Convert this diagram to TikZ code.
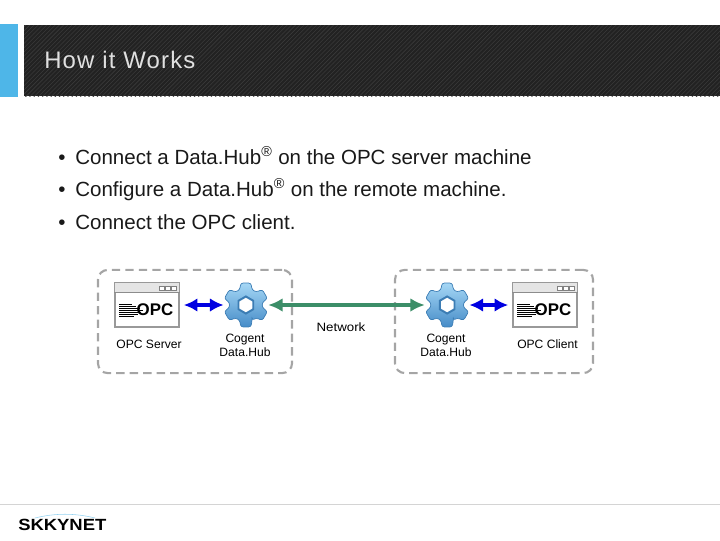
\documentclass[tikz,border=0pt]{standalone}
\usepackage{fontspec}
\setmainfont{Liberation Sans}
\newfontfamily\titlefont[LetterSpace=5]{Liberation Sans}
\usepackage{xcolor}
\usetikzlibrary{arrows.meta, positioning, patterns, calc}
\definecolor{skyBlue}{RGB}{78,182,232}
\definecolor{headerDark}{RGB}{34,34,34}
\definecolor{headerLine}{RGB}{58,58,58}
\definecolor{netGreen}{RGB}{60,142,104}
\definecolor{linkBlue}{RGB}{0,0,225}
\definecolor{zoneGray}{RGB}{165,165,165}
\definecolor{gearTop}{RGB}{165,215,245}
\definecolor{gearBottom}{RGB}{70,140,200}
\definecolor{gearEdge}{RGB}{60,125,180}

\begin{document}
\begin{tikzpicture}[
    x=0.025cm, y=-0.025cm,
    bullet/.style={anchor=base west, inner sep=0pt, font=\fontsize{14.6}{16}\selectfont, text=black!90},
    caption/.style={align=center, inner sep=0pt, font=\fontsize{8.6}{10.2}\selectfont},
    zone/.style={rectangle, draw=zoneGray, line width=1.5pt, dash pattern=on 6pt off 3.6pt, rounded corners=7pt, minimum height=2.58cm},
    window/.style={rectangle, draw=black!40, fill=white, line width=0.8pt, minimum width=1.6cm, minimum height=1.1cm, inner sep=0pt},
    gearnode/.style={circle, minimum size=1.1cm, inner sep=0pt},
    link/.style={{Latex[length=3.4mm,width=3.4mm]}-{Latex[length=3.4mm,width=3.4mm]}, line width=2.6pt, linkBlue},
    netlink/.style={{Latex[length=3.6mm,width=3.4mm]}-{Latex[length=3.6mm,width=3.4mm]}, line width=2.6pt, netGreen}
]
\useasboundingbox (0,0) rectangle (720,540);

% Header bars
\fill[skyBlue] (0,24) rectangle (18,97);
\fill[headerDark] (24,25) rectangle (720,96);
\fill[pattern=north east lines, pattern color=headerLine] (24,25) rectangle (720,96);
\node[anchor=base west, inner sep=0pt, text=black!12, font=\titlefont\fontsize{17}{20}\selectfont] (title) at (44,68) {How it Works};

% Bullet list
\node[bullet] (dotA) at (58,164) {•};
\node[bullet] (lineA) at (75,164) {Connect a Data.Hub\textsuperscript{®} on the OPC server machine};
\node[bullet] (dotB) at (58,196) {•};
\node[bullet] (lineB) at (75,196) {Configure a Data.Hub\textsuperscript{®} on the remote machine.};
\node[bullet] (dotC) at (58,229) {•};
\node[bullet] (lineC) at (75,229) {Connect the OPC client.};

% Dashed machines
\node[zone, minimum width=4.85cm] (leftZone) at (195,321.5) {};
\node[zone, minimum width=4.95cm] (rightZone) at (494,321.5) {};

% Windows and gears
\node[window] (opcServer) at (147,305) {};
\node[gearnode, right=1.1cm of opcServer] (gearLeft) {};
\node[window] (opcClient) at (545,305) {};
\node[gearnode, left=1.075cm of opcClient] (gearRight) {};

\foreach \win in {opcServer, opcClient} {
    \fill[black!10] (\win.north west) rectangle ($(\win.north east)+(0,10)$);
    \draw[black!40, line width=0.8pt] (\win.north west) rectangle (\win.south east);
    \draw[black!45, line width=0.5pt] ($(\win.north west)+(0,10)$) -- ($(\win.north east)+(0,10)$);
    \foreach \i in {0,1,2}
        \draw[black!50, line width=0.3pt, fill=white] ($(\win.north east)+(-20+\i*6,3.5)$) rectangle ++(4.5,4);
    \foreach \i/\len in {0/13,1/17,2/21,3/24,4/22,5/19,6/15}
        \draw[black, line width=0.5pt] ($(\win.west)+(5,-1+\i*2)$) -- ++(\len,0);
    \node[inner sep=0pt, font=\bfseries\fontsize{12}{12}\selectfont] at ($(\win.center)+(8,5)$) {OPC};
}

\foreach \gear in {gearLeft, gearRight} {
    \begin{scope}[shift={(\gear)}]
        \shade[top color=gearTop, bottom color=gearBottom, draw=gearEdge, line width=0.5pt, rounded corners=1.6pt]
            (68:16.5) \foreach \a in {90,150,210,270,330,390} {
                -- (\a-22:16.5) -- (\a-13:22.5) -- (\a+13:22.5) -- (\a+22:16.5)
            } -- cycle;
        \draw[gearEdge, line width=1.4pt, fill=white]
            (90:8.5) -- (150:8.5) -- (210:8.5) -- (270:8.5) -- (330:8.5) -- (30:8.5) -- cycle;
    \end{scope}
}

% Connectors
\draw[link, shorten <=3pt] (opcServer.east) -- (gearLeft.west);
\draw[link, shorten >=3pt] (gearRight.east) -- (opcClient.west);
\draw[netlink] (gearLeft.east) -- (gearRight.west);

% Captions
\node[caption] (serverLabel) at (149,344.5) {OPC Server};
\node[caption] (hubLeftLabel) at (245,345.5) {Cogent\\Data.Hub};
\node[caption] (netLabel) at (341,327.5) {\scalebox{1.1}[1]{Network}};
\node[caption] (hubRightLabel) at (446,345.5) {Cogent\\Data.Hub};
\node[caption] (clientLabel) at (547.5,344.5) {OPC Client};

% Footer
\draw[black!17, line width=0.6pt] (0,504) -- (720,504);
\draw[skyBlue!60, line width=0.4pt] (35,518) .. controls (55,513) and (75,513) .. (95,518);
\node[anchor=base west, inner sep=0pt, font=\bfseries\fontsize{11.5}{12}\selectfont] (logo) at (18,530.5) {\scalebox{1.14}[1]{SKKYNET}};
\end{tikzpicture}
\end{document}
